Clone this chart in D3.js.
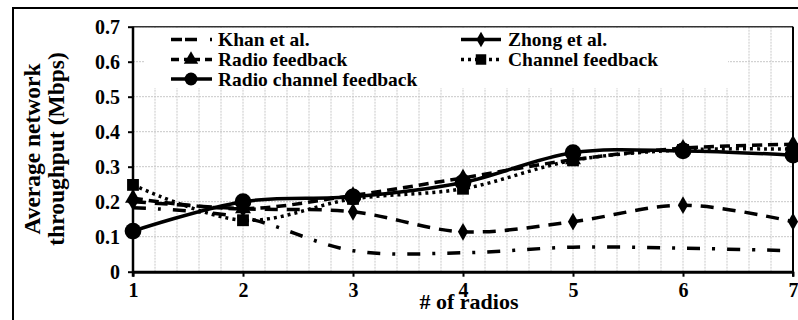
<!DOCTYPE html>
<html><head><meta charset="utf-8">
<script src="https://cdn.jsdelivr.net/npm/d3@7"></script>
<style>body{margin:0;background:#fff}svg{display:block}svg text{font-family:"Liberation Serif","Times New Roman",Times,"Noto Serif","DejaVu Serif",serif !important;font-weight:bold;fill:#000}</style>
</head><body><div id="chart"></div>
<script>
const radios = [1, 2, 3, 4, 5, 6, 7];
const khan = [0.183, 0.155, 0.060, 0.054, 0.070, 0.067, 0.060];
const zhong = [0.200, 0.180, 0.171, 0.114, 0.143, 0.190, 0.143];
const radioFeedback = [0.210, 0.180, 0.218, 0.268, 0.320, 0.353, 0.364];
const channelFeedback = [0.248, 0.147, 0.208, 0.237, 0.318, 0.348, 0.350];
const radioChannelFeedback = [0.116, 0.200, 0.214, 0.255, 0.340, 0.345, 0.333];
const yTicks = [0, 0.1, 0.2, 0.3, 0.4, 0.5, 0.6, 0.7];
const seriesNames = ["Khan et al.", "Zhong et al.", "Radio feedback", "Channel feedback", "Radio channel feedback"];

const FONT = '"Liberation Serif","Times New Roman",Times,"Noto Serif","DejaVu Serif",serif';
const W = 798, H = 320;
const svg = d3.select("#chart").append("svg").attr("width", W).attr("height", H);
const x = d3.scaleLinear().domain([1, 7]).range([133, 793]);
const y = d3.scaleLinear().domain([0, 0.7]).range([271.7, 26.7]);

// outer frame
svg.append("rect").attr("x", 13).attr("y", 8).attr("width", 820).attr("height", 340)
  .attr("fill", "none").attr("stroke", "#000").attr("stroke-width", 2);

// grid
const g = svg.append("g");
const vGrid = d3.range(1.2, 7, 0.2);
g.selectAll(".vg").data(vGrid).enter().append("line")
  .attr("x1", d => x(d)).attr("x2", d => x(d)).attr("y1", y(0.7)).attr("y2", y(0))
  .attr("stroke", "#c8c8c8").attr("stroke-width", 1).attr("stroke-dasharray", "2,1");
g.selectAll(".hg").data(yTicks.slice(1)).enter().append("line")
  .attr("x1", x(1)).attr("x2", x(7)).attr("y1", d => y(d)).attr("y2", d => y(d))
  .attr("stroke", "#c8c8c8").attr("stroke-width", 1).attr("stroke-dasharray", "2,1");

// legend background covering grid
svg.append("rect").attr("x", 145).attr("y", 28).attr("width", 583).attr("height", 60).attr("fill", "#fff");

// frame top/right
svg.append("line").attr("x1", x(1)).attr("x2", x(7)).attr("y1", y(0.7)).attr("y2", y(0.7)).attr("stroke", "#333").attr("stroke-width", 1.5);
svg.append("line").attr("x1", x(7)).attr("x2", x(7)).attr("y1", y(0.7)).attr("y2", y(0) + 5).attr("stroke", "#000").attr("stroke-width", 2);

// axes
const yAxis = d3.axisLeft(y).tickValues(yTicks).tickSize(5).tickSizeOuter(0).tickPadding(8)
  .tickFormat(d => d === 0 ? "0" : d3.format(".1f")(d));
const ya = svg.append("g").attr("transform", `translate(${x(1)},0)`).call(yAxis);
ya.attr("font-family", FONT);
ya.select(".domain").attr("stroke-width", 2.5).attr("d", `M0,${y(0.7)}V${y(0) + 5}`);
ya.selectAll(".tick line").attr("stroke-width", 2);
ya.selectAll("text").style("font-size", "20px").style("font-weight", "bold").attr("fill", "#000");

const xAxis = d3.axisBottom(x).tickValues(radios).tickSize(5).tickSizeOuter(0).tickPadding(6).tickFormat(d3.format("d"));
const xa = svg.append("g").attr("transform", `translate(0,${y(0)})`).call(xAxis);
xa.attr("font-family", FONT);
xa.select(".domain").attr("stroke-width", 3);
xa.selectAll(".tick line").attr("stroke-width", 2);
xa.selectAll("text").style("font-size", "20px").style("font-weight", "bold").attr("fill", "#000");

// axis titles
svg.append("text").attr("x", 469).attr("y", 309).attr("text-anchor", "middle").style("font-size", "22px").text("# of radios");
const yt = svg.append("text").attr("transform", "translate(40,149) rotate(-90)").attr("text-anchor", "middle").style("font-size", "23.5px");
yt.append("tspan").attr("x", 0).attr("dy", 0).text("Average network");
yt.append("tspan").attr("x", 0).attr("dy", 24).text("throughput (Mbps)");

// series
const seriesData = [khan, zhong, radioFeedback, channelFeedback, radioChannelFeedback];
const dashes = ["13,12,3,12", "13,9", "10,6", "3,4", null];
const markers = [null, "diamond", "triangle", "square", "circle"];
const line = d3.line().x((d, i) => x(radios[i])).y(d => y(d)).curve(d3.curveCatmullRom.alpha(0.5));
const sym = {
  diamond: d3.symbol().type(d3.symbolDiamond).size(90),
  triangle: d3.symbol().type(d3.symbolTriangle).size(110),
  square: d3.symbol().type(d3.symbolSquare).size(140),
  circle: d3.symbol().type(d3.symbolCircle).size(220)
};
const legSym = {
  diamond: d3.symbol().type(d3.symbolDiamond).size(70),
  triangle: d3.symbol().type(d3.symbolTriangle).size(90),
  square: d3.symbol().type(d3.symbolSquare).size(110),
  circle: d3.symbol().type(d3.symbolCircle).size(130)
};
const order = [0, 1, 3, 2, 4];
order.forEach(k => {
  const vals = seriesData[k];
  svg.append("path").datum(vals).attr("d", line).attr("fill", "none").attr("stroke", "#000")
    .attr("stroke-width", 3.5).attr("stroke-dasharray", dashes[k]);
  if (markers[k]) {
    svg.selectAll(null).data(vals).enter().append("path")
      .attr("d", sym[markers[k]]).attr("transform", (d, i) => `translate(${x(radios[i])},${y(d)})`).attr("fill", "#000");
  }
});

// legend
const legPos = [[171, 39.5], [461, 39.5], [171, 59.5], [461, 59.5], [171, 79]];
const legDash = ["11,3,12,13,3,40", "40", "8,5,16,5,20", "3,4", null];
seriesData.forEach((vals, k) => {
  const [lx, ly] = legPos[k];
  const lg = svg.append("g");
  lg.append("line").attr("x1", lx).attr("x2", lx + 41).attr("y1", ly).attr("y2", ly)
    .attr("stroke", "#000").attr("stroke-width", 3.5).attr("stroke-dasharray", legDash[k]);
  if (markers[k]) lg.append("path").attr("d", legSym[markers[k]]).attr("transform", `translate(${lx + 20},${ly})`).attr("fill", "#000");
  lg.append("text").attr("x", lx + 47).attr("y", ly + 6.5).style("font-size", "19.5px").text(seriesNames[k]);
});
svg.selectAll("text").style("font-family", FONT);
</script></body></html>
